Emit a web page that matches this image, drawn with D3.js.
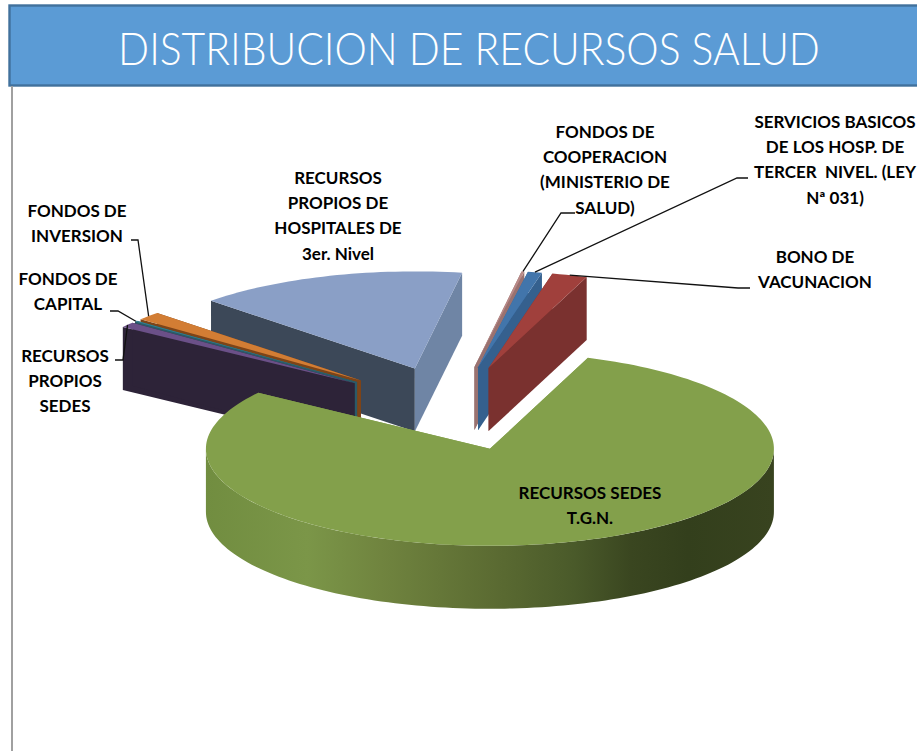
<!DOCTYPE html>
<html>
<head>
<meta charset="utf-8">
<script src="https://cdn.jsdelivr.net/npm/d3@7"></script>
<style>
html,body{margin:0;padding:0;background:#fff;overflow:hidden}
svg{display:block}
text{font-family:Lato,"Open Sans",sans-serif}
</style>
</head>
<body>
<div id="chart"></div>
<script>
// ---- data ----
const title = "DISTRIBUCION DE RECURSOS SALUD";
const categories = ["RECURSOS SEDES T.G.N.","RECURSOS PROPIOS SEDES","FONDOS DE CAPITAL","FONDOS DE INVERSION","RECURSOS PROPIOS DE HOSPITALES DE 3er. Nivel","FONDOS DE COOPERACION (MINISTERIO DE SALUD)","SERVICIOS BASICOS DE LOS HOSP. DE TERCER NIVEL. (LEY Nª 031)","BONO DE VACUNACION"];
const shares = [79.2, 0.9, 0.15, 1.4, 15.4, 0.15, 0.8, 2.0];
const labelLines = [
  ["RECURSOS SEDES","T.G.N."],
  ["RECURSOS","PROPIOS","SEDES"],
  ["FONDOS DE","CAPITAL"],
  ["FONDOS DE","INVERSION"],
  ["RECURSOS","PROPIOS DE","HOSPITALES DE","3er. Nivel"],
  ["FONDOS DE","COOPERACION","(MINISTERIO DE","SALUD)"],
  ["SERVICIOS BASICOS","DE LOS HOSP. DE","TERCER  NIVEL. (LEY","Nª 031)"],
  ["BONO DE","VACUNACION"]
];
// ---- styles & layout ----
const topColors  = ["#83a04b","#6b5088","#2f7f8f","#d27d34","#8a9fc6","#b98a88","#4275ab","#a0403c"];
const wallColors = ["#83a04b","#2d2338","#2a5a68","#7d4418","#3c4858","#8f6a68","#38679a","#7a312f"];
const endColors  = ["#83a04b","#2d2338","#2a5a68","#7d4418","#6f85a5","#9a7270","#35608e","#7a312f"];
const paintOrder = [4,3,2,1,5,6,7,0];
const labelX = [590,65,68,77,338,605,835,815];
const labelY = [493,356,279,211,178,132,122,257];
const lineStep = 25.2;
const elbows = [null,
  [[115,360],[123,360]],
  [[110,311],[118,311]],
  [[131,240],[138,240]],
  null,
  [[575,213],[561,213]],
  [[748,178],[737,178]],
  [[750,288],[738,288]]];
const W=917,H=751, cx=453.3, cy=408.5, rx=284, ry=97, depth=63, explode=0.435;
const rad=d=>d*Math.PI/180;

const svg=d3.select("#chart").append("svg").attr("width",W).attr("height",H);
const defs=svg.append("defs");
const grad=defs.append("linearGradient").attr("id","greenWall").attr("gradientUnits","userSpaceOnUse")
  .attr("x1",205).attr("x2",773).attr("y1",0).attr("y2",0);
[[0,"#718d40"],[.18,"#7b9648"],[.31,"#70843f"],[.51,"#5b6b32"],[.65,"#4a5a2a"],[.75,"#3a4620"],[.85,"#333f1c"],[1,"#38431f"]]
  .forEach(s=>grad.append("stop").attr("offset",s[0]).attr("stop-color",s[1]));

// header
svg.append("rect").attr("x",9.5).attr("y",5.5).attr("width",W).attr("height",80)
  .attr("fill","#5b9bd5").attr("stroke","#41719c").attr("stroke-width",2.4);
svg.append("line").attr("x1",12).attr("x2",12).attr("y1",86).attr("y2",H).attr("stroke","#a0a0a0").attr("stroke-width",2);
svg.append("text").attr("transform","translate(469,65) scale(0.888,1)").attr("text-anchor","middle")
  .attr("font-size",46).attr("font-weight",300).attr("fill","#fff").text(title);

// pie
const pie=d3.pie().sort(null).startAngle(rad(20.2)).endAngle(rad(20.2)+2*Math.PI);
const arcs=pie(shares);
const line=d3.line();
const geo=arcs.map(a=>{
  const mid=(a.startAngle+a.endAngle)/2;
  const ax=cx+rx*explode*Math.sin(mid), ay=cy-ry*explode*Math.cos(mid);
  const pt=t=>[ax+rx*Math.sin(t), ay-ry*Math.cos(t)];
  const n=Math.max(2,Math.ceil((a.endAngle-a.startAngle)/rad(1.5)));
  const ts=d3.range(n+1).map(i=>a.startAngle+(a.endAngle-a.startAngle)*i/n);
  return {ax,ay,pt,ts,mid,a};
});
const down=p=>[p[0],p[1]+depth];
const g=svg.append("g");
paintOrder.forEach(i=>{
  const s=geo[i];
  const apex=[s.ax,s.ay];
  const A=s.pt(s.a.startAngle), B=s.pt(s.a.endAngle);
  const gs=g.append("g");
  gs.append("path").attr("d",line([apex,A,down(A),down(apex)])+"Z").attr("fill",wallColors[i]);
  gs.append("path").attr("d",line([apex,B,down(B),down(apex)])+"Z").attr("fill",endColors[i]);
  // outer rim: only the part that faces the viewer (90°..270°)
  const from=Math.max(s.a.startAngle,rad(90)), to=Math.min(s.a.endAngle,rad(270));
  if(to>from){
    const rim=d3.range(0,1.0001,1/120).map(f=>s.pt(from+(to-from)*f));
    gs.append("path").attr("d",line(rim.concat(rim.slice().reverse().map(down)))+"Z").attr("fill","url(#greenWall)");
  }
  gs.append("path").attr("d",line([apex].concat(s.ts.map(s.pt)))+"Z").attr("fill",topColors[i]);
});

// leaders
elbows.forEach((e,i)=>{
  if(!e) return;
  const tip=geo[i].pt(geo[i].mid);
  svg.append("path").attr("d",line(e.concat([tip]))).attr("fill","none").attr("stroke","#111").attr("stroke-width",1.3);
});

// labels
labelLines.forEach((ls,i)=>{
  const t=svg.append("text").attr("text-anchor","middle").attr("font-size",17).attr("font-weight",700).attr("fill","#000");
  ls.forEach((l,j)=>t.append("tspan").attr("x",labelX[i]).attr("y",labelY[i]+j*lineStep+6).attr("xml:space","preserve").text(l));
});
</script>
</body>
</html>
